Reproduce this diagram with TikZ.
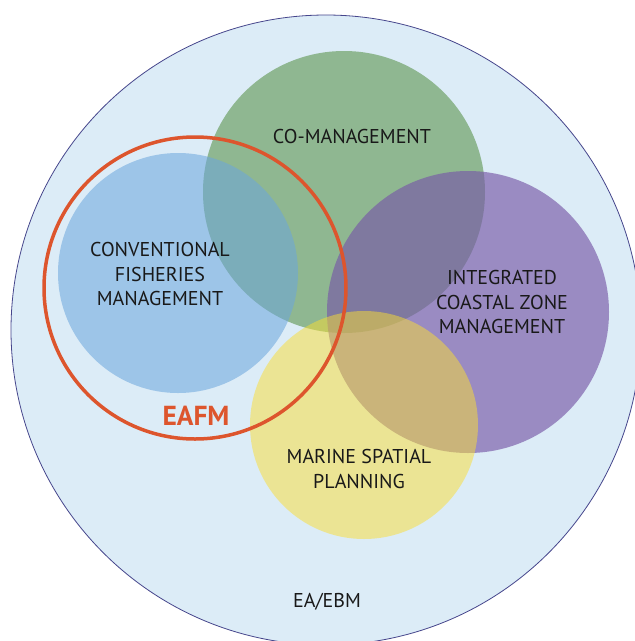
\documentclass[tikz,border=0pt]{standalone}
\usepackage{fontspec}
\setmainfont{PT Sans}

\definecolor{ebmbg}{RGB}{220,236,247}
\definecolor{ebmline}{RGB}{70,70,140}
\definecolor{cfmblue}{RGB}{107,165,220}
\definecolor{cogreen}{RGB}{143,183,145}
\definecolor{iczmpurple}{RGB}{120,89,167}
\definecolor{mspyellow}{RGB}{250,222,51}
\definecolor{eafmred}{RGB}{221,85,45}

\tikzset{
	lbl/.style={align=center, font=\fontsize{20}{24.5}\selectfont, text=black!90},
	eafmlbl/.style={font=\fontsize{27.5}{30}\selectfont\bfseries, text=eafmred}
}

\begin{document}
\begin{tikzpicture}[x=1pt,y=-1pt]
	\useasboundingbox (0,0) rectangle (635,641);
	\clip (0,0) rectangle (635,641);
	%\draw[help lines,step=50] (0,0) grid (635,641);
	\fill[white] (0,0) rectangle (635,641);
	\draw[ebmline, fill=ebmbg, line width=0.8pt] (326,330) circle[radius=315pt];

	\fill[cogreen] (344,192) circle[radius=141pt];
	\fill[cfmblue, fill opacity=0.55] (178,273) circle[radius=120pt];
	\fill[iczmpurple, fill opacity=0.66] (468,312) circle[radius=141pt];
	\fill[mspyellow, fill opacity=0.5] (364,425) circle[radius=114pt];
	\draw[eafmred, line width=3.5pt] (195,288) circle[radius=151pt];

	\node[lbl] (cfm) at (160,274) {CONVENTIONAL\\FISHERIES\\MANAGEMENT};
	\node[lbl] (co) at (352,136) {CO-MANAGEMENT};
	\node[lbl] (iczm) at (502,302) {INTEGRATED\\COASTAL ZONE\\MANAGEMENT};
	\node[lbl] (msp) at (359,469) {MARINE SPATIAL\\PLANNING};
	\node[lbl] (ebm) at (327,602) {EA/EBM};
	\node[eafmlbl] (eafm) at (196,416) {EAFM};
\end{tikzpicture}
\end{document}
